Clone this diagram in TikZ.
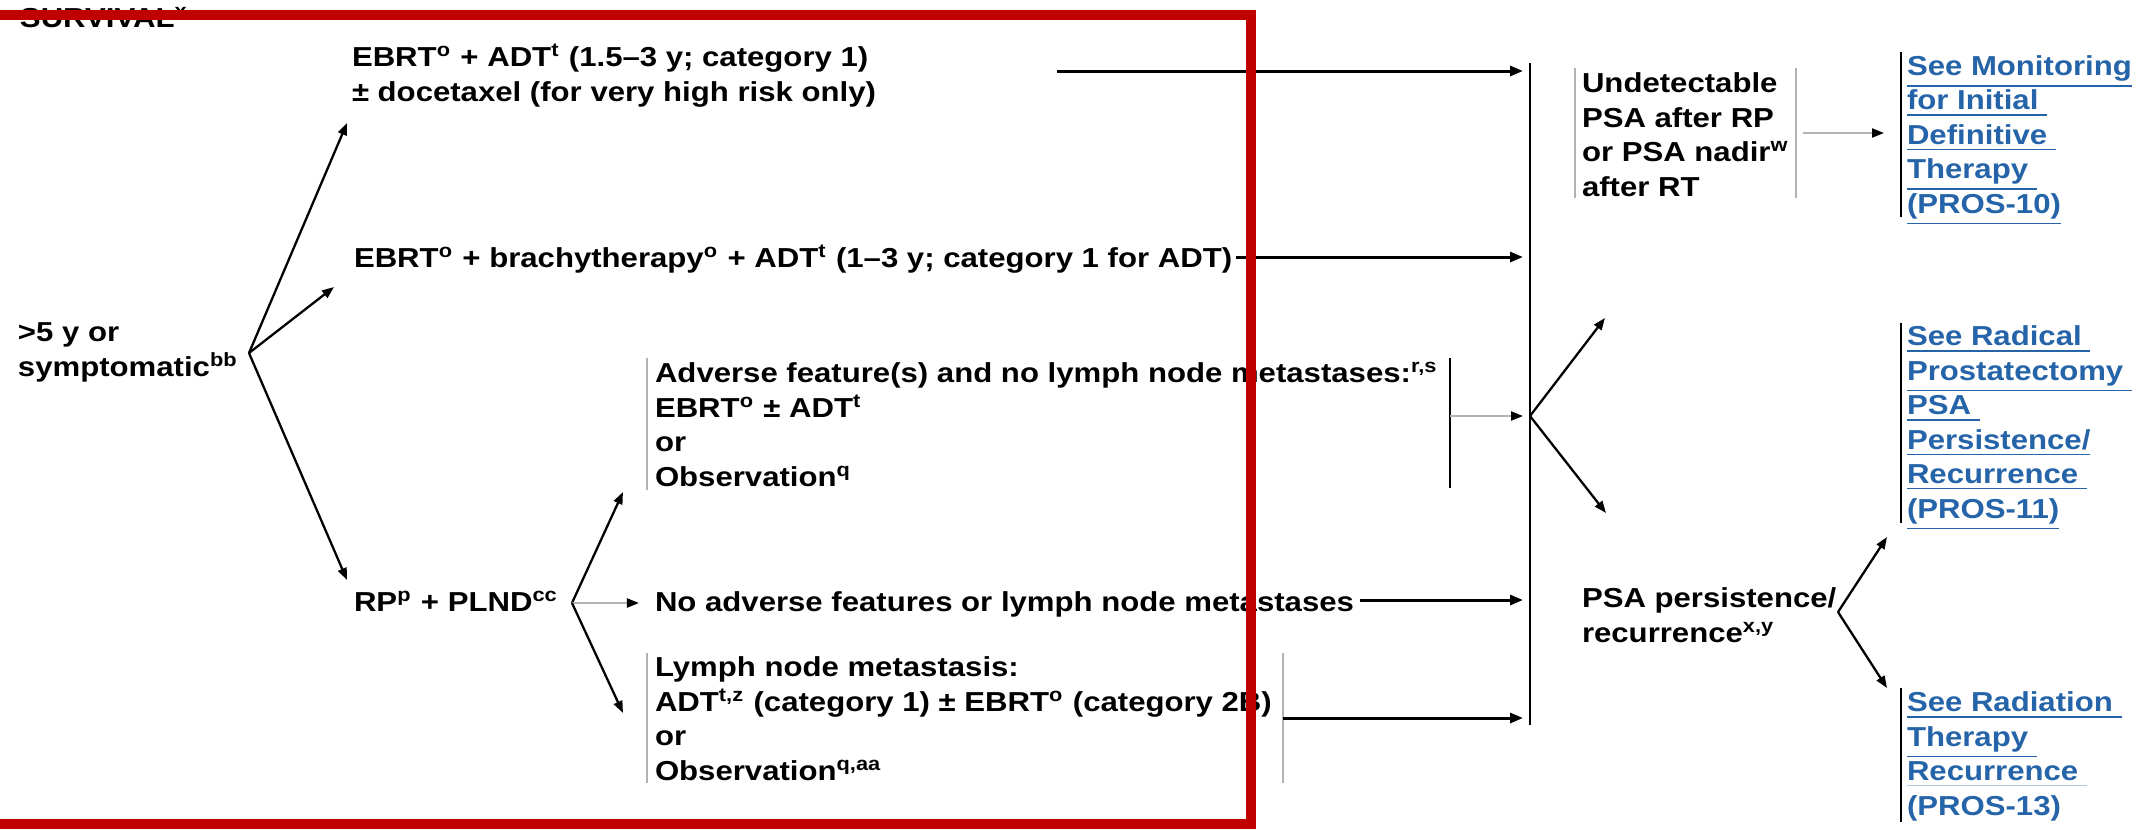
\documentclass[tikz,border=0pt]{standalone}
\usepackage{fontspec}
\setmainfont{Liberation Sans}[FakeStretch=1.135]
\usetikzlibrary{arrows.meta}
\definecolor{boxred}{RGB}{192,0,0}
\definecolor{linkblue}{RGB}{37,100,168}
\definecolor{bargray}{RGB}{178,178,178}
\newcommand{\sps}[1]{\textsuperscript{#1}}
\newcommand{\ul}[1]{\underline{#1}}
\newcommand{\faintul}[1]{{\color{linkblue!35}\underline{\textcolor{linkblue}{#1}}}}
\begin{document}
\begin{tikzpicture}[x=0.01cm,y=-0.01cm,
  txt/.style={font=\fontsize{7.8}{9.8}\selectfont\bfseries, inner sep=0pt, outer sep=0pt, align=left, anchor=base west},
  linktxt/.style={txt, text=linkblue},
  fan/.style={line width=0.65pt, -{Triangle[length=0.12cm,width=0.09cm]}},
  harrow/.style={line width=0.85pt, -{Triangle[length=0.13cm,width=0.1cm]}},
  garrow/.style={line width=0.6pt, draw=bargray, -{Triangle[length=0.12cm,width=0.09cm,color=black,fill=black]}},
  graybar/.style={line width=0.6pt, draw=bargray},
  blackbar/.style={line width=0.7pt, draw=black},
  frame/.style={line width=2.85pt, draw=boxred}]
\useasboundingbox (0,0) rectangle (2141,829);

% ---------- texts (anchor = baseline of the last line) ----------
\node[txt] (surv) at (20,27) {SURVIVAL\sps{x}};
\node[txt] (start) at (18,376) {>5 y or\\symptomatic\sps{bb}};
\node[txt] (t1) at (352,101) {EBRT\sps{o} + ADT\sps{t} (1.5–3 y; category 1)\\± docetaxel (for very high risk only)};
\node[txt] (t2) at (354,267) {EBRT\sps{o} + brachytherapy\sps{o} + ADT\sps{t} (1–3 y; category 1 for ADT)};
\node[txt] (rp) at (354,611) {RP\sps{p} + PLND\sps{cc}};
\node[txt] (adv) at (655,486) {Adverse feature(s) and no lymph node metastases:\sps{r,s}\\EBRT\sps{o} ± ADT\sps{t}\\or\\Observation\sps{q}};
\node[txt] (noadv) at (655,611) {No adverse features or lymph node metastases};
\node[txt] (lymph) at (655,780) {Lymph node metastasis:\\ADT\sps{t,z} (category 1) ± EBRT\sps{o} (category 2B)\\or\\Observation\sps{q,aa}};
\node[txt] (und) at (1582,196) {Undetectable\\PSA after RP\\or PSA nadir\sps{w}\\after RT};
\node[txt] (psa) at (1582,642) {PSA persistence/\\recurrence\sps{x,y}};
\node[linktxt] (l10) at (1907,213) {\ul{See Monitoring}\\\ul{for Initial\ }\\\ul{Definitive\ }\\\ul{Therapy\ }\\\ul{(PROS-10)}};
\node[linktxt] (l11) at (1907,518) {\ul{See Radical\ }\\\ul{Prostatectomy\ }\\\ul{PSA\ }\\\ul{Persistence/}\\\ul{Recurrence\ }\\\ul{(PROS-11)}};
\node[linktxt] (l13) at (1907,815) {\ul{See Radiation\ }\\\ul{Therapy\ }\\\faintul{Recurrence\ }\\(PROS-13)};

% ---------- bars ----------
\draw[graybar] (647,358) coordinate (advTL) -- (647,490) coordinate (advBL);
\draw[blackbar] (1450,358) coordinate (advTR) -- (1450,488) coordinate (advBR);
\draw[graybar] (647,653) coordinate (lymTL) -- (647,783) coordinate (lymBL);
\draw[graybar] (1283,653) coordinate (lymTR) -- (1283,783) coordinate (lymBR);
\draw[graybar] (1575,68) coordinate (undTL) -- (1575,198) coordinate (undBL);
\draw[graybar] (1796,68) coordinate (undTR) -- (1796,198) coordinate (undBR);
\draw[line width=0.75pt] (1901,52) coordinate (l10T) -- (1901,217) coordinate (l10B);
\draw[line width=0.75pt] (1901,323) coordinate (l11T) -- (1901,523) coordinate (l11B);
\draw[line width=0.75pt] (1901,688) coordinate (l13T) -- (1901,822) coordinate (l13B);

% ---------- collector ----------
\coordinate (colT) at (1530,63);
\coordinate (colB) at (1530,725);
\draw[line width=0.6pt] (colT) -- (colB);

% ---------- connector points ----------
\coordinate (startfan) at (249,353);
\coordinate (t1tip) at (347,123);
\coordinate (t2tip) at (334,287);
\coordinate (rptip) at (347,580);
\coordinate (rpfan) at (572,603);
\coordinate (advtip) at (623,492);
\coordinate (noadvtip) at (639,603);
\coordinate (lymtip) at (623,713);
\coordinate (t1out) at (1057,71);
\coordinate (c1) at (1523,71);
\coordinate (t2out) at (1236,257);
\coordinate (c2) at (1523,257);
\coordinate (advout) at (1450,416);
\coordinate (c3) at (1523,416);
\coordinate (noadvout) at (1360,600);
\coordinate (c4) at (1523,600);
\coordinate (lymout) at (1283,718);
\coordinate (c5) at (1523,718);
\coordinate (colfan) at (1530,416);
\coordinate (undtip) at (1605,318);
\coordinate (psatip) at (1606,513);
\coordinate (undout) at (1803,133);
\coordinate (l10tip) at (1884,133);
\coordinate (psafan) at (1838,612);
\coordinate (l11tip) at (1887,537);
\coordinate (l13tip) at (1887,688);

% ---------- connectors ----------
\draw[fan] (startfan) -- (t1tip);
\draw[fan] (startfan) -- (t2tip);
\draw[fan] (startfan) -- (rptip);
\draw[fan] (rpfan) -- (advtip);
\draw[garrow] (rpfan) -- (noadvtip);
\draw[fan] (rpfan) -- (lymtip);
\draw[harrow] (t1out) -- (c1);
\draw[harrow] (t2out) -- (c2);
\draw[garrow] (advout) -- (c3);
\draw[harrow] (noadvout) -- (c4);
\draw[harrow] (lymout) -- (c5);
\draw[fan] (colfan) -- (undtip);
\draw[fan] (colfan) -- (psatip);
\draw[garrow] (undout) -- (l10tip);
\draw[fan] (psafan) -- (l11tip);
\draw[fan] (psafan) -- (l13tip);

% ---------- red frame ----------
\draw[frame] (-20,15) rectangle (1251,824);
\end{tikzpicture}
\end{document}
